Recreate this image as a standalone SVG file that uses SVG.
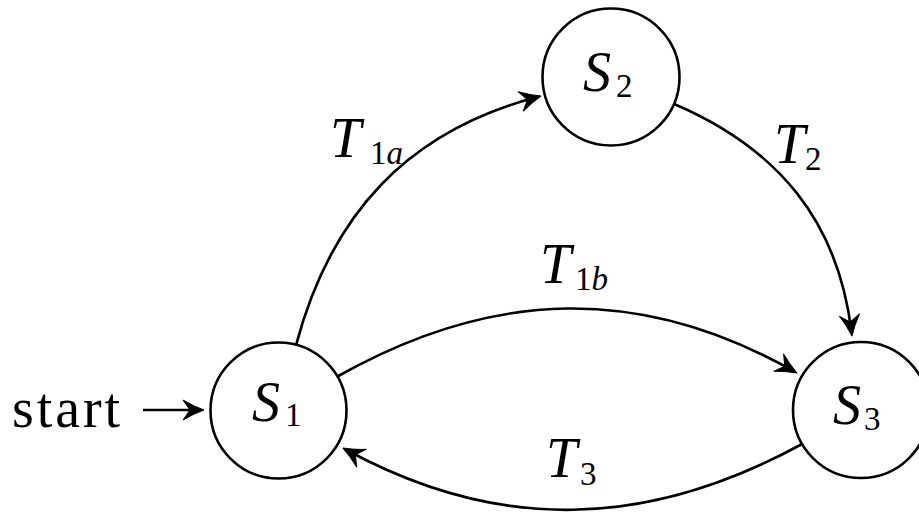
<svg xmlns="http://www.w3.org/2000/svg" width="919" height="513" viewBox="0 0 919 513">
<style>
.node{fill:#fff;stroke:#000;stroke-width:2.6}
.edge{fill:none;stroke:#000;stroke-width:2.6}
.m{font-family:"Liberation Serif",serif;font-style:italic;font-size:56px;fill:#000}
.sub{font-style:normal;font-size:33px}
.subi{font-style:italic;font-size:33px}
.t{font-family:"Liberation Serif",serif;font-size:56px;fill:#000}
</style>
<defs>
<marker id="arr" viewBox="-26 -12 28 24" markerWidth="28" markerHeight="24" refX="-4" refY="0" orient="auto" markerUnits="userSpaceOnUse">
<path d="M0,0 Q-10,-3.5 -21,-10 L-14,0 L-21,10 Q-10,3.5 0,0 Z" fill="#000" stroke="#000" stroke-width="1" stroke-linejoin="round"/>
</marker>
</defs>
<rect width="919" height="513" fill="#fff"/>
<g id="connectors">
<path class="edge" d="M143,410 L200,410" marker-end="url(#arr)"/>
<path class="edge" d="M296.1,344.8 C331.4,213.2 407.9,131.5 537.1,97" marker-end="url(#arr)"/>
<path class="edge" d="M673.6,103.7 C779.3,148.8 838.3,222.4 851.5,332" marker-end="url(#arr)"/>
<path class="edge" d="M337.4,376.5 C493.2,288.5 641.1,285 793.5,371" marker-end="url(#arr)"/>
<path class="edge" d="M802.1,444 C646.3,529 498.4,532.5 346.5,450" marker-end="url(#arr)"/>
</g>
<g id="start">
<text class="t" x="12" y="427" textLength="108" lengthAdjust="spacing">start</text>
</g>
<g id="S1">
<circle class="node" cx="278.5" cy="410.5" r="68"/>
<text class="m" x="252" y="421">S<tspan class="sub" x="285" y="426">1</tspan></text>
</g>
<g id="S2">
<circle class="node" cx="611" cy="77" r="68.5"/>
<text class="m" x="583" y="91">S<tspan class="sub" x="616" y="97">2</tspan></text>
</g>
<g id="S3">
<circle class="node" cx="861" cy="410" r="68"/>
<text class="m" x="833" y="424">S<tspan class="sub" x="864" y="430">3</tspan></text>
</g>
<g id="labels">
<text class="m" x="330" y="157">T<tspan class="sub" x="370" y="164">1</tspan><tspan class="subi" y="164">a</tspan></text>
<text class="m" x="540" y="283">T<tspan class="sub" x="575" y="290">1</tspan><tspan class="subi" y="290">b</tspan></text>
<text class="m" x="774" y="163">T<tspan class="sub" x="805" y="170">2</tspan></text>
<text class="m" x="546" y="477">T<tspan class="sub" x="580" y="485">3</tspan></text>
</g>
</svg>
